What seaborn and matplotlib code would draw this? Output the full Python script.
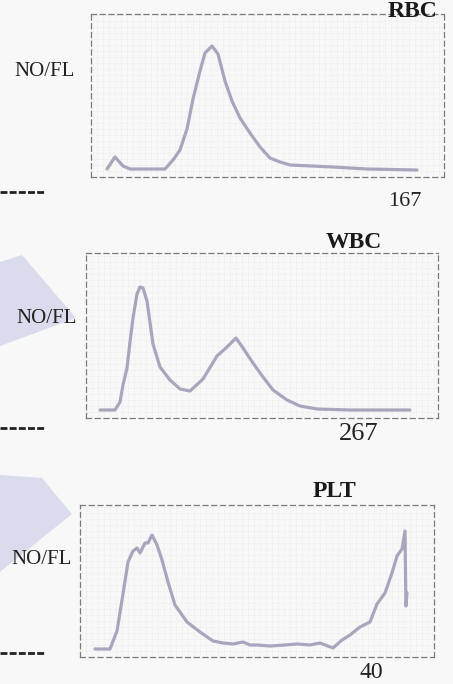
import matplotlib
matplotlib.use("Agg")
import matplotlib.pyplot as plt
from matplotlib.patches import Polygon
from matplotlib.lines import Line2D
from matplotlib.ticker import MultipleLocator
import seaborn as sns

# histogram outlines (channel, relative count)
rbc_ch = [16, 24, 32, 39, 74, 82, 89, 96, 102, 109, 114, 121, 127, 134, 141, 149,
          159, 169, 179, 189, 199, 242, 276, 326]
rbc_cnt = [8, 20, 11, 8, 8, 17, 27, 48, 78, 106, 124, 131, 123, 96, 76, 59,
           44, 30, 19, 15, 12, 10, 8, 7]

wbc_ch = [14, 29, 34, 37, 41, 44, 47, 51, 54, 57, 61, 67, 74, 84, 94, 104, 117, 131,
          141, 150, 157, 167, 177, 187, 201, 214, 231, 264, 324]
wbc_cnt = [8, 8, 16, 33, 50, 76, 100, 124, 131, 130, 117, 74, 51, 38, 29, 27, 39, 62,
           71, 80, 70, 55, 41, 28, 18, 12, 9, 8, 8]

plt_ch = [15, 30, 37, 43, 48, 53, 57, 60, 65, 68, 72, 77, 82, 88, 95, 107, 120, 133,
          143, 153, 163, 170, 177, 190, 205, 217, 230, 240, 253, 262, 270, 280, 290,
          297, 305, 312, 317, 322, 325, 325.5, 326, 327]
plt_cnt = [8, 8, 26, 63, 95, 106, 109, 104, 114, 114, 122, 112, 97, 75, 52, 35, 25, 16,
           14, 13, 15, 12, 12, 11, 12, 13, 12, 14, 9, 17, 22, 30, 35,
           53, 64, 84, 101, 108, 126, 84, 51, 64]

titles = ["RBC", "WBC", "PLT"]
ylabels = ["NO/FL", "NO/FL", "NO/FL"]
limits = ["167", "267", "40"]

sns.set_style("white")
plt.rcParams["font.family"] = ["Liberation Serif", "DejaVu Serif"]

W, H = 453, 684
fig = plt.figure(figsize=(W / 100, H / 100), dpi=100)
fig.patch.set_facecolor("#f8f8f8")

def fx(px):
    return px / W

def fy(py):
    return 1 - py / H

# panel boxes in pixels: left, top, right, bottom
boxes = [(91, 14, 444, 177), (86, 253, 438, 418), (80, 505, 434, 657)]
series = [(rbc_ch, rbc_cnt), (wbc_ch, wbc_cnt), (plt_ch, plt_cnt)]
title_pos = [(412, 1), (354, 232), (334, 481)]
label_pos = [(45, 72), (47, 319), (42, 560)]
limit_pos = [(405, 201), (359, 434), (371, 673)]
limit_size = [16, 19, 17]
dash_y = [192, 428, 653]

# light blue smudges from the scan
smudges = [[(0, 262), (22, 255), (76, 318), (0, 346)],
           [(0, 475), (42, 478), (72, 514), (0, 572)]]
for pts in smudges:
    poly = Polygon([(fx(x), fy(y)) for x, y in pts], closed=True,
                   transform=fig.transFigure, facecolor="#dadced",
                   edgecolor="none", zorder=0)
    fig.patches.append(poly)

for i, (l, t, r, b) in enumerate(boxes):
    ax = fig.add_axes([fx(l), fy(b), fx(r - l), (b - t) / H])
    ax.set_facecolor("none")
    x, y = series[i]
    sns.lineplot(x=x, y=y, sort=False, ax=ax, color="#aaa5bd", lw=2.3)
    ax.set_xlim(0, r - l)
    ax.set_ylim(0, b - t)
    ax.xaxis.set_major_locator(MultipleLocator(6))
    ax.yaxis.set_major_locator(MultipleLocator(6))
    ax.grid(True, linestyle=":", color="#e8e8e8", lw=0.6)
    ax.tick_params(length=0, labelbottom=False, labelleft=False)
    ax.set_xlabel("")
    ax.set_ylabel("")
    for sp in ax.spines.values():
        sp.set_linestyle((0, (4, 3)))
        sp.set_color("#7a7a7a")
        sp.set_linewidth(0.9)

    tx, ty = title_pos[i]
    fig.text(fx(tx), fy(ty), titles[i], ha="center", va="top",
             fontsize=17, fontweight="bold", color="#1a1a1a")
    lx, ly = label_pos[i]
    fig.text(fx(lx), fy(ly), ylabels[i], ha="center", va="center",
             fontsize=15, color="#222222")
    nx, ny = limit_pos[i]
    fig.text(fx(nx), fy(ny), limits[i], ha="center", va="center",
             fontsize=limit_size[i], color="#222222")
    fig.add_artist(Line2D([0, fx(45)], [fy(dash_y[i]), fy(dash_y[i])],
                          transform=fig.transFigure, color="#222222",
                          lw=2.0, linestyle=(0, (2.5, 0.8))))

fig.savefig("out.png", dpi=100, facecolor=fig.get_facecolor())
